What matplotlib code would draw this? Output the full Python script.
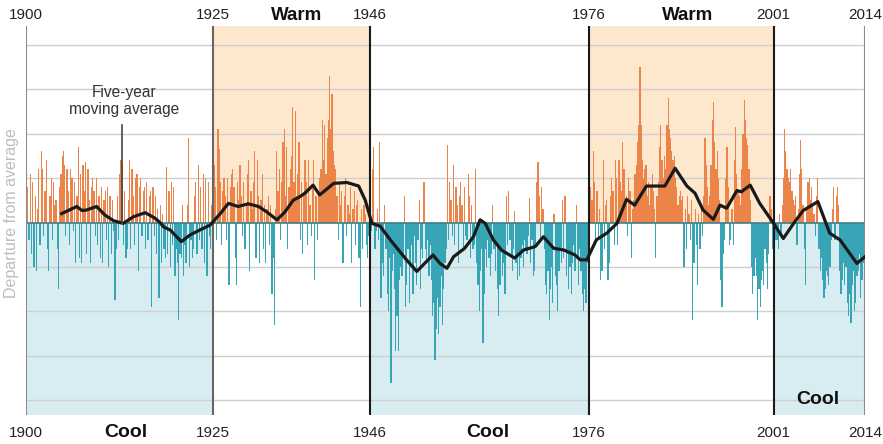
import matplotlib
matplotlib.use('Agg')
from matplotlib import pyplot as plt
import numpy as np

plt.rcParams['font.family'] = ['Liberation Sans', 'DejaVu Sans']

# bi-monthly index values (6 per year), one row per year
pdo_1900_1924 = [
    1.3, 0.8, -0.4, 1.1, -0.7, 0.9,
    -1.0, 0.6, -1.1, 0.3, 1.2, -0.5,
    1.6, 1.2, -0.3, 0.7, 1.4, -0.6,
    -1.1, 0.6, 1.0, -0.4, 0.9, 0.4,
    0.5, -0.6, -1.5, 0.8, 1.1, 1.5,
    1.6, 1.3, -0.3, 1.2, 0.7, -0.5,
    1.2, 1.0, -0.2, 0.9, -0.9, 0.6,
    1.7, -0.8, 1.1, -0.9, 1.3, 0.7,
    1.35, -0.7, 1.2, 0.5, -0.9, 0.8,
    1.0, 0.7, -0.3, 1.0, -0.5, 0.6,
    -0.8, 0.8, -0.9, 0.5, 0.7, -0.4,
    0.8, -1.0, 0.6, -0.7, 0.5, -0.2,
    -1.75, -0.6, 0.6, -0.4, 1.1, 1.4,
    1.3, -0.5, 0.7, -0.8, -0.6, 0.5,
    1.4, -0.6, 1.2, 0.6, -0.5, 1.0,
    1.1, -1.1, 0.8, 1.0, -0.3, 0.7,
    0.8, -0.6, 0.9, -0.4, 0.6, 0.7,
    -1.9, 0.8, -0.3, 0.6, -0.7, 0.3,
    -1.7, 0.4, -0.9, 0.2, -0.6, -0.8,
    1.25, -0.7, 0.7, -1.0, 0.9, -0.5,
    0.8, -1.2, -0.6, -0.9, -2.2, -0.7,
    -0.8, 0.4, -1.2, -0.5, -0.9, 0.4,
    1.9, -1.0, -0.4, -0.8, -0.6, 0.6,
    0.9, -0.7, 1.3, -0.4, 0.8, -0.6,
    1.1, -0.9, 1.0, -1.2, 0.9, -0.3,
]
pdo_1925_1945 = [
    -0.6, 0.4, -0.2, 1.3, 0.8, -0.4,
    2.1, 1.65, 0.9, -0.5, 0.7, 1.0,
    0.6, -0.4, 1.0, -1.4, 0.8, 1.1,
    1.2, 0.8, -0.8, -1.4, 0.9, 0.5,
    1.3, 0.6, -0.3, 0.9, -0.6, 0.4,
    1.1, 1.4, -1.1, 0.7, 0.3, 0.9,
    1.6, -0.8, 1.4, 0.6, -0.9, 0.5,
    1.1, -0.6, 0.4, -0.9, 0.3, 0.6,
    -0.5, 0.4, -1.6, -0.8, -2.3, 0.3,
    1.6, 0.7, 1.2, -0.4, 0.9, 1.8,
    2.1, 0.6, 1.7, -0.6, 0.8, 1.2,
    1.5, 2.6, 0.9, 2.5, 0.6, 1.1,
    1.8, -0.4, 0.9, -0.7, 0.6, 1.4,
    0.9, -0.5, 1.4, 0.4, -0.3, 0.8,
    1.4, -1.3, 0.6, -0.4, 0.7, 1.0,
    1.2, 2.3, 1.4, 2.2, 1.1, 1.9,
    2.3, 3.3, 2.1, 2.9, 1.6, 1.3,
    1.2, 0.6, -0.4, 0.9, 0.4, 0.7,
    -0.9, 0.6, 1.0, -0.3, 0.4, 0.2,
    0.8, -0.9, 0.3, 0.7, -0.5, 0.4,
    0.5, -0.8, -1.9, 0.3, -0.6, 0.4,
]
pdo_1946_1975 = [
    0.2, -0.5, -0.8, -0.3, 0.4, -0.2,
    1.2, 1.7, -0.6, -0.2, 0.3, -0.4,
    1.8, -1.7, -0.9, -1.2, 0.4, -0.6,
    -1.6, -2.0, -0.8, -3.6, -1.1, -0.7,
    -1.5, -2.9, -2.1, -2.9, -1.3, -1.0,
    -1.2, -0.8, 0.6, -1.9, -1.4, -0.6,
    -1.8, -1.0, -0.5, -1.6, -0.3, -0.9,
    -1.4, -0.4, 0.5, -1.5, -0.6, -0.8,
    0.9, -0.6, -0.9, -0.4, -1.2, -0.5,
    -1.3, -2.1, -1.8, -3.1, -2.4, -1.7,
    -2.5, -1.9, -1.2, -2.3, -1.5, -0.9,
    -0.6, 1.75, -0.4, 0.9, 0.5, -0.3,
    1.3, -0.5, 0.8, 0.4, -0.9, 0.6,
    0.9, 0.4, -0.6, 0.8, -0.3, -0.4,
    1.1, 0.6, -0.8, 0.4, -0.6, -0.5,
    1.2, -0.9, -1.4, -2.0, -1.1, -0.6,
    -2.7, -1.6, -0.6, -1.0, -0.4, -0.8,
    -1.2, -0.7, 0.4, -0.6, -1.1, -0.5,
    -1.5, -2.1, -1.4, -0.6, -1.2, -0.9,
    -1.6, 0.6, -0.5, 0.7, -0.4, -0.8,
    -1.1, -0.6, 0.25, -0.9, -1.3, -0.7,
    -1.2, -0.8, -0.5, -1.0, -0.4, -0.6,
    -0.7, -0.3, 0.55, -0.9, -0.4, -1.2,
    -1.1, -0.5, 0.9, 1.35, 0.6, -0.4,
    0.8, 0.3, -0.6, -1.4, -1.6, -1.1,
    -2.2, -1.5, -1.0, -1.8, 0.2, -1.2,
    -1.4, -2.0, -1.1, -0.6, -0.9, 0.5,
    -0.8, 0.6, -1.2, -0.7, -1.5, -1.0,
    -1.6, -0.9, -0.5, -1.1, 0.4, -0.8,
    -1.4, -0.6, -1.1, -1.6, -2.0, -1.5,
]
pdo_1976_2000 = [
    -1.8, -0.9, 1.4, 1.6, 0.8, 0.5,
    1.6, 0.9, -0.5, 0.7, -0.4, 0.3,
    -1.3, -1.1, 1.4, -0.6, 0.4, 0.5,
    -1.3, -0.9, 0.6, 1.0, 0.7, -0.5,
    1.4, 1.0, -0.5, 1.4, 0.9, 0.7,
    1.8, 1.2, 0.4, 0.6, -0.3, 1.0,
    0.7, -0.8, 0.3, 0.5, 1.1, 1.3,
    1.8, 2.2, 3.5, 2.2, 1.4, 1.0,
    1.2, 1.3, 0.6, 0.9, 0.4, 0.8,
    1.1, 0.7, 0.3, -0.8, 0.6, 0.9,
    1.7, 2.2, 1.4, 1.0, 1.5, 1.2,
    2.2, 2.8, 2.1, 1.9, 1.6, 1.4,
    1.5, 1.0, 0.8, 0.4, 0.6, 0.7,
    0.5, 0.6, -1.0, 0.3, -0.6, 0.6,
    0.2, -0.4, 0.5, -2.2, -0.9, 0.3,
    -0.5, -1.4, 0.2, -0.6, 0.4, -0.3,
    0.6, 1.9, 1.3, 0.8, 0.4, 0.6,
    1.3, 2.3, 2.7, 1.8, 1.2, 1.6,
    1.0, 0.5, -1.3, -1.9, -0.7, -0.4,
    1.0, 1.7, 0.8, -0.5, -0.4, 0.3,
    -0.5, 1.4, 2.15, 1.1, 0.7, 0.6,
    0.4, 1.2, 2.0, 2.75, 2.3, 1.9,
    1.75, 1.2, 0.5, -1.0, -1.6, -1.2,
    -0.8, -1.2, -2.2, -1.5, -1.9, -1.3,
    -1.1, -1.4, -0.6, -0.9, -1.5, -0.7,
]
pdo_2001_2013 = [
    0.6, 0.3, -0.6, -1.2, -0.7, -0.4,
    -0.4, -0.6, 0.2, -0.3, 0.4, 1.0,
    2.1, 1.6, 1.2, 1.0, 0.9, 1.2,
    0.7, 0.5, 0.4, 0.6, -0.5, 0.3,
    1.1, 1.85, 1.2, 0.4, -0.6, -1.4,
    0.3, 0.9, 1.0, 0.5, 0.8, 0.4,
    0.2, -0.3, 0.6, 1.0, -0.6, -1.1,
    -0.8, -1.3, -1.7, -1.5, -1.1, -1.2,
    -1.4, -1.0, -0.4, 0.3, 0.8, -0.4,
    0.6, 0.8, 0.4, -1.1, -1.6, -1.3,
    -0.9, -1.4, -1.0, -1.8, -2.1, -1.6,
    -2.25, -1.4, -1.1, -2.0, -1.8, -1.2,
    -1.1, -0.7, -1.7, -1.3, -0.9, -0.6,
]

# five-year moving average
ma_years = [1904.85, 1906.9, 1907.6, 1908.2, 1909.6, 1910.7, 1911.9, 1913.2,
            1914.6, 1916.2, 1917.5, 1918.2, 1918.7, 1919.6, 1921.1, 1922.3,
            1923.6, 1925.0, 1926.4, 1927.5, 1928.8, 1930.2, 1931.6, 1932.7,
            1934.1, 1935.2, 1936.3, 1937.2, 1937.9, 1939.0, 1939.9, 1941.8,
            1943.6, 1945.2, 1946.1, 1947.0, 1948.1, 1949.5, 1951.7, 1953.1,
            1955.3, 1956.25, 1957.2, 1958.1, 1959.6, 1960.8, 1961.7, 1962.4,
            1963.5, 1964.6, 1966.4, 1967.6, 1969.2, 1970.3, 1971.7, 1973.1,
            1974.6, 1975.3, 1976.2, 1977.5, 1978.9, 1980.3, 1981.6, 1982.7,
            1984.3, 1986.8, 1988.2, 1989.8, 1990.9, 1992.0, 1993.4, 1994.3,
            1995.2, 1996.6, 1997.2, 1998.4, 1999.7, 2001.5, 2002.9, 2004.3,
            2005.6, 2007.6, 2009.2, 2010.6, 2012.9, 2014.0]
ma_values = [0.2, 0.36, 0.27, 0.28, 0.36, 0.17, 0.04, -0.02,
             0.13, 0.22, 0.1, 0.0, -0.1, -0.17, -0.43, -0.28,
             -0.17, -0.06, 0.2, 0.43, 0.36, 0.42, 0.36, 0.24,
             0.06, 0.24, 0.5, 0.58, 0.66, 0.84, 0.62, 0.88,
             0.9, 0.82, 0.5, -0.02, -0.08, -0.39, -0.84, -1.1,
             -0.73, -0.92, -1.03, -0.77, -0.58, -0.32, 0.06, -0.02,
             -0.39, -0.62, -0.8, -0.62, -0.54, -0.32, -0.58, -0.62,
             -0.73, -0.84, -0.84, -0.39, -0.24, -0.02, 0.52, 0.39,
             0.82, 0.82, 1.22, 0.82, 0.66, 0.28, 0.07, 0.39,
             0.32, 0.72, 0.69, 0.84, 0.43, 0.0, -0.36, -0.02,
             0.27, 0.47, -0.24, -0.39, -0.92, -0.77]

# regime boundaries: label and where the picture puts the divider
boundary_labels = ['1900', '1925', '1946', '1976', '2001', '2014']
boundary_pos = [1900, 1925.45, 1946.75, 1976.5, 2001.6, 2014]
warm_periods = [(1, 2), (3, 4)]
cool_periods = [(0, 1), (2, 3), (4, 5)]

values = np.array(pdo_1900_1924 + pdo_1925_1945 + pdo_1946_1975 +
                  pdo_1976_2000 + pdo_2001_2013)
step = 1.0 / 6
xs = 1900 + step * (np.arange(len(values)) + 0.5)

ymin, ymax = -4.33, 4.42

fig = plt.figure(figsize=(8.83, 4.44), dpi=100)
ax = fig.add_axes([26 / 883, 1 - 415 / 444, 839 / 883, 389 / 444])
ax.set_xlim(1900, 2014)
ax.set_ylim(ymin, ymax)

for a, b in warm_periods:
    ax.fill_between([boundary_pos[a], boundary_pos[b]], 0, ymax,
                    color='#fde7cd', lw=0, zorder=0)
for a, b in cool_periods:
    ax.fill_between([boundary_pos[a], boundary_pos[b]], ymin, 0,
                    color='#d8edf2', lw=0, zorder=0)

for g in [-4, -3, -2, -1, 1, 2, 3, 4]:
    ax.axhline(g, color='#cfcfcf', lw=1, zorder=1)

pos = values > 0
ax.bar(xs[pos], values[pos], width=step, color='#ec844a', lw=0, zorder=2)
ax.bar(xs[~pos], values[~pos], width=step, color='#38a5b7', lw=0, zorder=2)
ax.axhline(0, color='#3f7f88', lw=1.2, zorder=3)

line_colors = ['#8a8a8a', '#6b6460', '#1a1a1a', '#1a1a1a', '#1a1a1a', '#8a8a8a']
xtr = ax.get_xaxis_transform()
for lab, xp, c in zip(boundary_labels, boundary_pos, line_colors):
    ax.axvline(xp, color=c, lw=1.5, zorder=4)
    ax.text(xp, 1.028, lab, transform=xtr, ha='center', va='center',
            fontsize=11, color='#222222')
    ax.text(xp, -0.046, lab, transform=xtr, ha='center', va='center',
            fontsize=11, color='#222222')

ax.plot(ma_years, ma_values, color='#1a1a1a', lw=2.3, zorder=5,
        solid_joinstyle='round')

for xw in [1936.8, 1989.9]:
    ax.text(xw, 1.028, 'Warm', transform=xtr, ha='center', va='center',
            fontsize=13.5, fontweight='bold', color='#111111')
for xc in [1913.5, 1962.8]:
    ax.text(xc, -0.046, 'Cool', transform=xtr, ha='center', va='center',
            fontsize=14, fontweight='bold', color='#111111')
ax.text(2007.6, -3.99, 'Cool', ha='center', va='center', fontsize=14,
        fontweight='bold', color='#111111', zorder=6)

ax.text(1913.3, 2.73, 'Five-year\nmoving average', ha='center', va='center',
        fontsize=11.2, color='#333333', linespacing=1.15, zorder=6)
ax.plot([1913.0, 1913.0], [2.2, 0.0], color='#444444', lw=1.2, zorder=6)

ax.text(-14 / 839, (415 - 213) / 389, 'Departure from average',
        transform=ax.transAxes, rotation=90, ha='center', va='center',
        fontsize=11.5, color='#bdbdbd')

for s in ax.spines.values():
    s.set_visible(False)
ax.set_xticks([])
ax.set_yticks([])

fig.savefig('out.png', dpi=100)
